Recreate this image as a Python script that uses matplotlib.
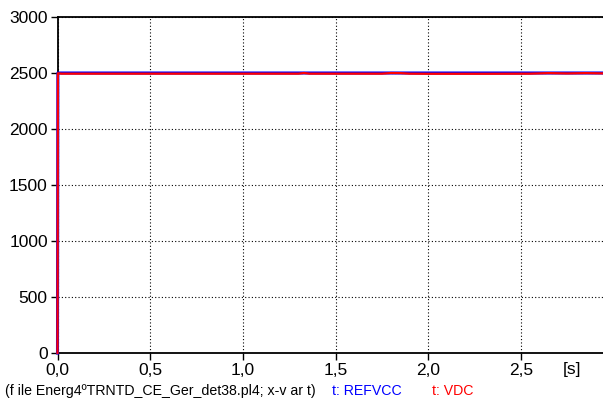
import matplotlib
matplotlib.use("Agg")
import matplotlib.pyplot as plt

plt.rcParams['font.family'] = ['Liberation Sans', 'DejaVu Sans']

# data
t_ref = [0.0, 0.002, 1.0, 2.0, 3.0]
refvcc = [0, 2500, 2500, 2500, 2500]
t_vdc = [0.0, 0.002, 0.02, 0.3, 0.8, 1.3, 1.33, 1.36, 1.5, 1.75, 1.8, 1.85, 1.9, 2.0, 2.3, 2.55, 2.65, 2.75, 2.85, 3.0]
vdc = [0, 2498, 2494, 2494, 2494, 2494, 2500, 2494, 2494, 2494, 2500, 2499, 2494, 2493, 2493, 2494, 2499, 2496, 2499, 2495]
xticks = [0.0, 0.5, 1.0, 1.5, 2.0, 2.5, 3.0]
xticklabels = ['0,0', '0,5', '1,0', '1,5', '2,0', '2,5', '3']
yticks = [0, 500, 1000, 1500, 2000, 2500, 3000]

fig = plt.figure(figsize=(6.03, 4.05), dpi=100)
W, H = 603, 405
x0, x1 = 57.5, 613.5
y_top, y_bot = 17, 353
ax = fig.add_axes([x0 / W, 1 - y_bot / H, (x1 - x0) / W, (y_bot - y_top) / H])

ax.plot(t_ref, refvcc, color='#0000ff', lw=2.2, zorder=3, clip_on=False)
ax.plot(t_vdc, vdc, color='#ff0000', lw=1.6, zorder=3.1, clip_on=False)

ax.set_xlim(0, 3.0)
ax.set_ylim(0, 3000)
ax.set_xticks(xticks)
ax.set_xticklabels(xticklabels)
ax.set_yticks(yticks)
ax.set_yticklabels([str(v) for v in yticks])
ax.tick_params(direction='out', length=5, width=1, labelsize=12.5, pad=2)
ax.grid(True, color='black', linestyle=(0, (1, 2)), lw=0.8)
ax.spines['right'].set_visible(False)
for s in ['left', 'bottom', 'top']:
    ax.spines[s].set_linewidth(1.3)

fig.text(563 / W, 1 - 362 / H, '[s]', fontsize=12.5, va='top', ha='left')
fs = 10.2
yfoot = 1 - 391 / H
fig.text(5 / W, yfoot, '(f ile Energ4ºTRNTD_CE_Ger_det38.pl4; x-v ar t)', fontsize=fs, va='center', ha='left', color='black')
fig.text(332 / W, yfoot, 't: REFVCC', fontsize=fs, va='center', ha='left', color='#0000ff')
fig.text(432 / W, yfoot, 't: VDC', fontsize=fs, va='center', ha='left', color='#ff0000')

fig.savefig('out.png', dpi=100)
